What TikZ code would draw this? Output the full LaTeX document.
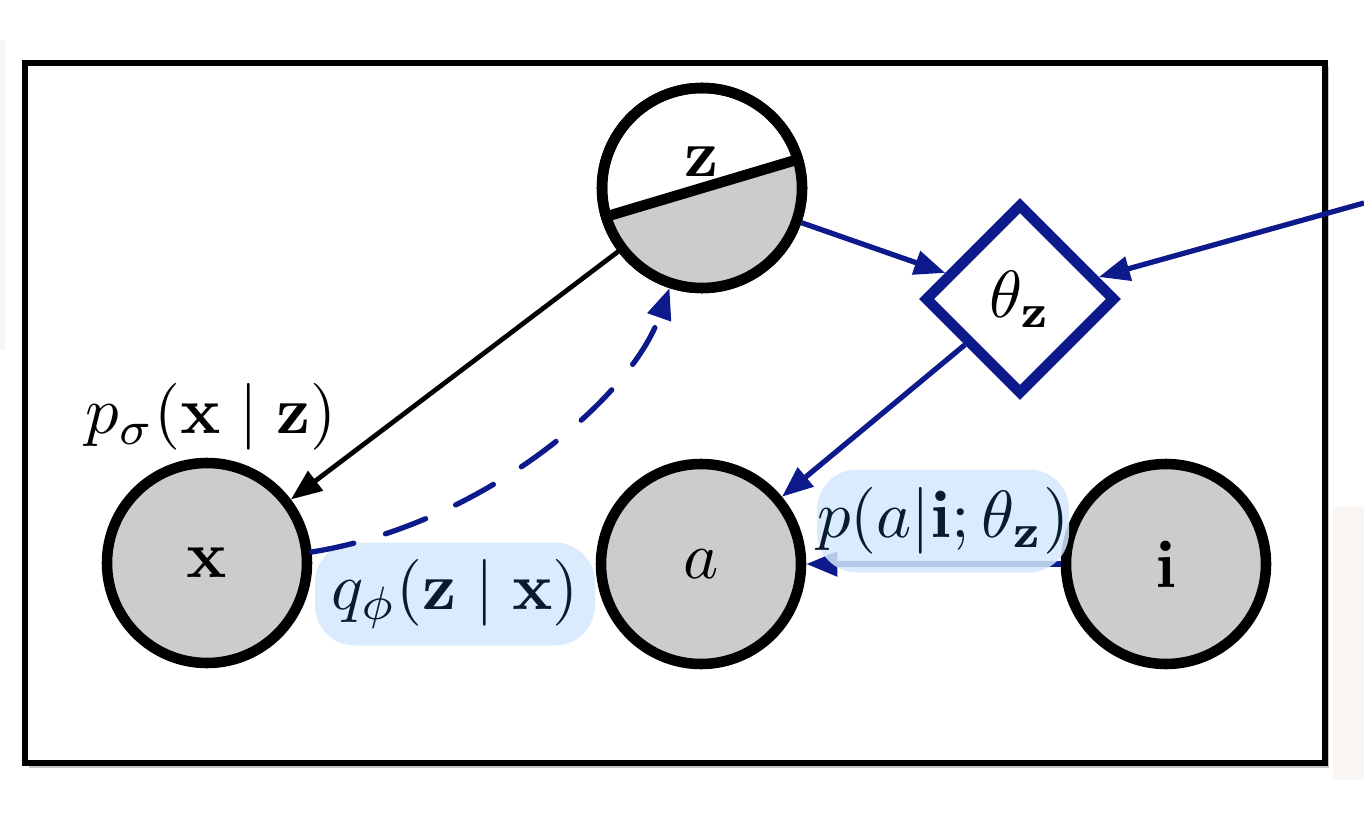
\documentclass[tikz,border=0pt]{standalone}
\usepackage{graphicx}
\usepackage{amsmath}
\usetikzlibrary{arrows.meta,shapes.geometric,shadows,calc}
\definecolor{navy}{RGB}{12,26,140}
\definecolor{nodegray}{RGB}{204,204,204}
\definecolor{lblue}{RGB}{211,232,252}
\definecolor{labtext}{RGB}{10,26,48}
\definecolor{faintbg}{RGB}{248,245,242}
\newcommand{\lbl}[1]{\scalebox{3.8}{#1}}
\begin{document}
\begin{tikzpicture}[
  varnode/.style={circle, draw=black, line width=6pt, minimum size=4cm, inner sep=0pt},
  obsnode/.style={varnode, fill=nodegray},
  paramnode/.style={diamond, draw=navy, line width=6pt, fill=white, minimum width=3.82cm, minimum height=3.82cm, inner sep=0pt},
  blueedge/.style={draw=navy, line width=3pt, -{Triangle[length=0.62cm,width=0.48cm]}},
  blackedge/.style={draw=black, line width=2.7pt, -{Triangle[length=0.62cm,width=0.48cm]}},
  dashedge/.style={blueedge, line cap=round, dash pattern=on 0.86cm off 0.66cm},
  lbox/.style={fill=lblue, fill opacity=0.85, text opacity=1, text=labtext, rounded corners=0.8cm, minimum height=2.06cm, inner sep=0pt},
  frame/.style={draw=black, line width=3.2pt, fill=white, drop shadow={shadow xshift=0.07cm, shadow yshift=-0.09cm, opacity=0.45}}
]
\useasboundingbox (0,0) rectangle (27.28,16.24);
% faint background patches
\fill[faintbg] (0,9.24) rectangle (0.1,15.44);
\fill[faintbg] (26.66,0.64) rectangle (27.28,6.1);
% frame
\path[frame] (0.5,0.98) rectangle (26.5,14.98);

% nodes
\node[varnode, fill=white] (z) at (14.04,12.48) {};
\fill[nodegray] ($(z.center)+(196.6:2cm)$) arc[start angle=196.6, end angle=376.6, radius=2cm] -- cycle;
\draw[line width=6pt] ($(z.center)+(196.6:2cm)$) -- ($(z.center)+(16.6:2cm)$);
\draw[line width=6pt] (z.center) circle[radius=2cm];
\node (zlab) at (14.04,13.0) {\lbl{$\mathbf{z}$}};

\node[obsnode] (x) at (4.14,4.98) {\lbl{$\mathbf{x}$}};
\node[obsnode] (a) at (14.02,4.96) {\lbl{$a$}};
\node[obsnode] (i) at (23.32,4.96) {\lbl{$\mathbf{i}$}};
\node[paramnode] (theta) at (20.4,10.26) {\lbl{$\theta_{\mathbf{z}}$}};
\coordinate (ext) at (27.28,12.18);

% q label box (under dashed edge)
\node[lbox, minimum width=5.6cm] (qlab) at (9.1,4.36) {\lbl{$q_\phi(\mathbf{z}\mid\mathbf{x})$}};

% edges
\draw[blueedge] (z) -- (theta);
\draw[blueedge] (ext) -- (theta);
\draw[blueedge] (theta) -- (a);
\draw[blueedge] (i) -- (a);
\draw[blackedge] (z) -- (x);
\draw[dashedge] (x.6) .. controls (9.6,5.74) and (12.6,8.24) .. (z.252);

% labels
\node[anchor=base] (plab) at (4.22,7.56) {\lbl{$p_\sigma(\mathbf{x}\mid\mathbf{z})$}};
\node[lbox, minimum width=4.94cm] (palab) at (18.86,5.82) {\lbl{$p(a|\mathbf{i};\theta_{\mathbf{z}})$}};
\end{tikzpicture}
\end{document}
